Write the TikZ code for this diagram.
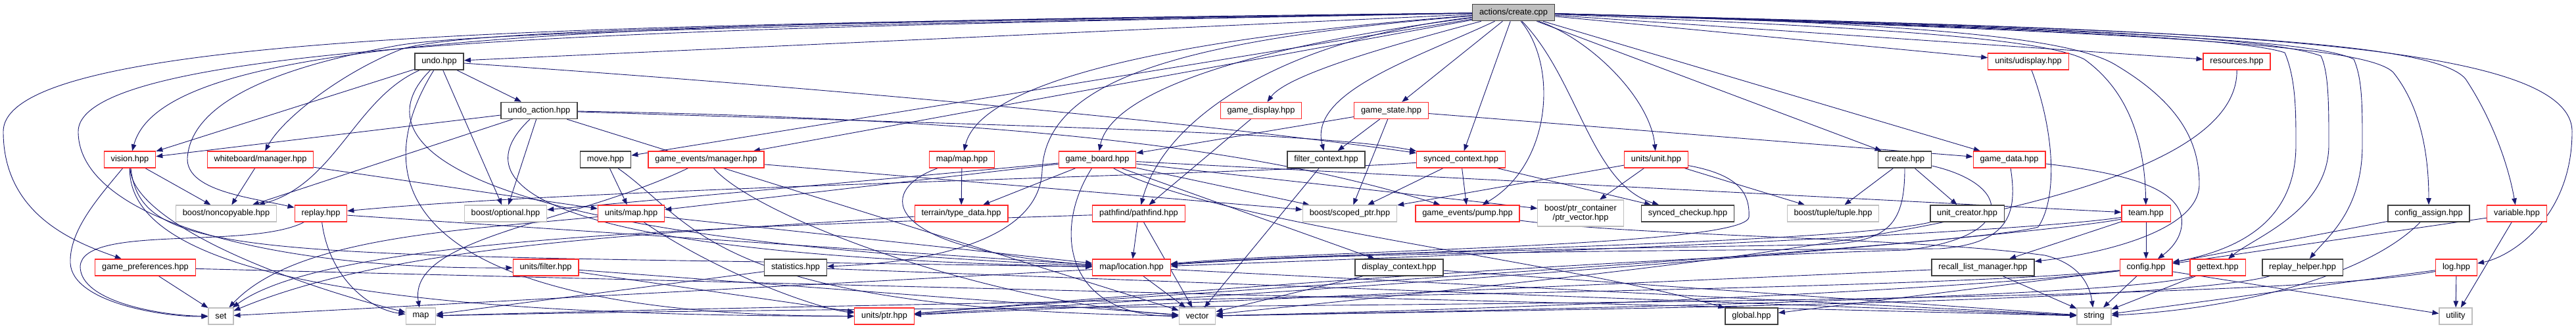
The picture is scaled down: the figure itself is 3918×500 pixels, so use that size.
\documentclass[tikz,border=0pt]{standalone}
\usepackage{fontspec}
\setmainfont{Liberation Sans}
\usepackage{xcolor}
\definecolor{edgeblue}{HTML}{191970}
\definecolor{boxred}{HTML}{FF2A2A}
\definecolor{boxgray}{HTML}{BFBFBF}
\definecolor{rootgray}{HTML}{BFBFBF}
\usepackage{tikz}
\usetikzlibrary{arrows.meta,backgrounds}

\begin{document}
\begin{tikzpicture}[
        x=1pt, y=-1pt,
        hdr/.style={draw, fill=white, line width=1.2pt, minimum height=25pt, inner xsep=10.4pt, inner ysep=2pt, font=\fontsize{12.8}{14}\selectfont},
        redhdr/.style={hdr, draw=boxred},
        blkhdr/.style={hdr, draw=black!75, line width=1.6pt},
        syshdr/.style={hdr, draw=boxgray},
        roothdr/.style={hdr, draw=black!75, fill=rootgray, line width=1.6pt},
        arr/.style={-{Triangle[length=10pt,width=7.5pt]}, draw=edgeblue, line width=0.9pt},
    ]
    \useasboundingbox (0,0) rectangle (3918,500);

    % === Row 0: the source file ===
    \node[roothdr] (create) at (2302,19) {actions/create.cpp};

    % === Row 1 ===
    \node[blkhdr] (undo) at (668,93.5) {undo.hpp};
    \node[redhdr] (udisplay) at (3085,93.5) {units/udisplay.hpp};
    \node[redhdr] (resources) at (3402,93.5) {resources.hpp};

    % === Row 2 ===
    \node[blkhdr] (undoaction) at (820,168) {undo\_action.hpp};
    \node[redhdr] (gamedisplay) at (1918,168) {game\_display.hpp};
    \node[redhdr] (gamestate) at (2116,168) {game\_state.hpp};

    % === Row 3 ===
    \node[redhdr] (vision) at (197.5,242.5) {vision.hpp};
    \node[redhdr] (wbmanager) at (396,242.5) {whiteboard/manager.hpp};
    \node[blkhdr] (move) at (921,242.5) {move.hpp};
    \node[redhdr] (gemanager) at (1074,242.5) {game\_events/manager.hpp};
    \node[redhdr] (mapmap) at (1463,242.5) {map/map.hpp};
    \node[redhdr] (gameboard) at (1669,242.5) {game\_board.hpp};
    \node[blkhdr] (filterctx) at (2017,242.5) {filter\_context.hpp};
    \node[redhdr] (syncedctx) at (2222,242.5) {synced\_context.hpp};
    \node[redhdr] (unit) at (2519,242.5) {units/unit.hpp};
    \node[blkhdr] (createhpp) at (2897,242.5) {create.hpp};
    \node[redhdr] (gamedata) at (3056,242.5) {game\_data.hpp};

    % === Row 4 ===
    \node[syshdr] (noncopyable) at (344,324.5) {boost/noncopyable.hpp};
    \node[redhdr] (replay) at (488,324.5) {replay.hpp};
    \node[syshdr] (optional) at (769,324.5) {boost/optional.hpp};
    \node[redhdr] (unitsmap) at (960,324.5) {units/map.hpp};
    \node[redhdr] (typedata) at (1462,324.5) {terrain/type\_data.hpp};
    \node[redhdr] (pathfind) at (1732,324.5) {pathfind/pathfind.hpp};
    \node[syshdr] (scopedptr) at (2053,324.5) {boost/scoped\_ptr.hpp};
    \node[redhdr] (pump) at (2232,324.5) {game\_events/pump.hpp};
    \node[syshdr, minimum height=40pt, align=center] (ptrvector) at (2404,324) {boost/ptr\_container\\/ptr\_vector.hpp};
    \node[blkhdr] (checkup) at (2567,324.5) {synced\_checkup.hpp};
    \node[syshdr] (tuple) at (2788,324.5) {boost/tuple/tuple.hpp};
    \node[blkhdr] (unitcreator) at (2992,324.5) {unit\_creator.hpp};
    \node[redhdr] (team) at (3264,324.5) {team.hpp};
    \node[blkhdr] (configassign) at (3694,324.5) {config\_assign.hpp};
    \node[redhdr] (variable) at (3828,324.5) {variable.hpp};

    % === Row 5 ===
    \node[redhdr] (gameprefs) at (221,406.5) {game\_preferences.hpp};
    \node[redhdr] (unitfilter) at (830,406.5) {units/filter.hpp};
    \node[blkhdr] (statistics) at (1210,406.5) {statistics.hpp};
    \node[redhdr] (location) at (1721,406.5) {map/location.hpp};
    \node[blkhdr] (displayctx) at (2128,406.5) {display\_context.hpp};
    \node[blkhdr] (recall) at (3016,406.5) {recall\_list\_manager.hpp};
    \node[redhdr] (config) at (3264,406.5) {config.hpp};
    \node[redhdr] (gettext) at (3373,406.5) {gettext.hpp};
    \node[blkhdr] (replayhelper) at (3502,406.5) {replay\_helper.hpp};
    \node[redhdr] (log) at (3736,406.5) {log.hpp};

    % === Row 6: system headers ===
    \node[syshdr] (set) at (336,480.5) {set};
    \node[syshdr] (map) at (640,480.5) {map};
    \node[redhdr] (unitptr) at (1345,480.5) {units/ptr.hpp};
    \node[syshdr] (vector) at (1821,480.5) {vector};
    \node[blkhdr] (global) at (2664,480.5) {global.hpp};
    \node[syshdr] (string) at (3185,480.5) {string};
    \node[syshdr] (utility) at (3735,480.5) {utility};

    \begin{scope}[on background layer]
    \fill[white] (0,0) rectangle (3918,500);

    % === Includes of actions/create.cpp ===
    \draw[arr] (create) .. controls (900,35) and (250,50) .. (vision);
    \draw[arr] (create) .. controls (1200,35) and (700,45) .. (610,75) .. controls (520,110) and (430,180) .. (wbmanager);
    \draw[arr] (create) .. controls (1200,38) and (700,50) .. (600,70) .. controls (380,110) and (290,170) .. (285,240) .. controls (283,290) and (380,300) .. (replay);
    \draw[arr] (create) .. controls (1000,38) and (5,40) .. (5,200) .. controls (5,330) and (120,370) .. (gameprefs);
    \draw[arr] (create) .. controls (1100,42) and (119,55) .. (119,200) .. controls (119,330) and (400,410) .. (unitfilter);
    \draw[arr] (create) -- (undo);
    \draw[arr] (create) -- (move);
    \draw[arr] (create) -- (gemanager);
    \draw[arr] (create) .. controls (1750,60) and (1490,130) .. (mapmap);
    \draw[arr] (create) .. controls (1900,70) and (1690,140) .. (gameboard);
    \draw[arr] (create) .. controls (1800,60) and (1590,120) .. (1585,260) .. controls (1580,370) and (1400,400) .. (statistics);
    \draw[arr] (create) .. controls (1950,60) and (1770,180) .. (pathfind);
    \draw[arr] (create) .. controls (2150,60) and (1960,110) .. (gamedisplay);
    \draw[arr] (create) .. controls (2150,90) and (1990,140) .. (filterctx);
    \draw[arr] (create) -- (gamestate);
    \draw[arr] (create) -- (syncedctx);
    \draw[arr] (create) .. controls (2370,100) and (2360,250) .. (pump);
    \draw[arr] (create) .. controls (2400,120) and (2420,280) .. (checkup);
    \draw[arr] (create) .. controls (2420,60) and (2510,150) .. (unit);
    \draw[arr] (create) -- (createhpp);
    \draw[arr] (create) -- (gamedata);
    \draw[arr] (create) -- (udisplay);
    \draw[arr] (create) -- (resources);
    \draw[arr] (create) .. controls (2800,40) and (3100,55) .. (3170,90) .. controls (3240,140) and (3262,220) .. (team);
    \draw[arr] (create) .. controls (2900,35) and (3150,55) .. (3220,100) .. controls (3320,160) and (3345,220) .. (3345,280) .. controls (3345,350) and (3200,385) .. (recall);
    \draw[arr] (create) .. controls (3000,40) and (3400,55) .. (3475,80) .. controls (3492,120) and (3492,170) .. (3492,220) .. controls (3492,340) and (3400,380) .. (config);
    \draw[arr] (create) .. controls (3100,40) and (3450,55) .. (3530,85) .. controls (3542,110) and (3542,160) .. (3542,220) .. controls (3542,320) and (3430,360) .. (gettext);
    \draw[arr] (create) .. controls (3200,45) and (3520,60) .. (3580,90) .. controls (3593,120) and (3593,160) .. (3593,220) .. controls (3593,320) and (3540,360) .. (replayhelper);
    \draw[arr] (create) .. controls (3300,50) and (3600,70) .. (3640,110) .. controls (3680,160) and (3694,230) .. (configassign);
    \draw[arr] (create) .. controls (3300,45) and (3700,60) .. (3750,120) .. controls (3790,180) and (3815,250) .. (variable);
    \draw[arr] (create) .. controls (3300,45) and (3912,55) .. (3912,200) .. controls (3912,330) and (3820,390) .. (log);

    % === undo.hpp, undo_action.hpp ===
    \draw[arr] (undo) -- (undoaction);
    \draw[arr] (undo) -- (optional);
    \draw[arr] (undo) -- (vision);
    \draw[arr] (undo) .. controls (540,150) and (510,280) .. (noncopyable);
    \draw[arr] (undo) .. controls (1500,150) and (2000,210) .. (syncedctx);
    \draw[arr] (undo) .. controls (560,200) and (620,360) .. (location);
    \draw[arr] (undo) .. controls (540,300) and (650,480) .. (unitptr);
    \draw[arr] (undoaction) -- (vision);
    \draw[arr] (undoaction) -- (noncopyable);
    \draw[arr] (undoaction) -- (optional);
    \draw[arr] (undoaction) .. controls (1500,190) and (2000,200) .. (syncedctx);
    \draw[arr] (undoaction) .. controls (1500,180) and (1900,220) .. (pump);
    \draw[arr] (undoaction) .. controls (680,300) and (900,390) .. (location);
    \draw[arr] (undoaction) -- (vector);

    % === left part ===
    \draw[arr] (vision) -- (noncopyable);
    \draw[arr] (vision) .. controls (150,300) and (105,350) .. (107,400) .. controls (110,460) and (250,482) .. (set);
    \draw[arr] (vision) .. controls (200,330) and (400,420) .. (map);
    \draw[arr] (vision) .. controls (215,400) and (400,385) .. (location);
    \draw[arr] (vision) .. controls (195,420) and (600,480) .. (unitptr);
    \draw[arr] (wbmanager) -- (noncopyable);
    \draw[arr] (wbmanager) -- (unitsmap);
    \draw[arr] (replay) .. controls (380,380) and (125,340) .. (122,405) .. controls (122,460) and (250,480) .. (set);
    \draw[arr] (replay) -- (location);
    \draw[arr] (replay) .. controls (500,420) and (560,470) .. (map);
    \draw[arr] (gameprefs) -- (set);
    \draw[arr] (gameprefs) -- (string);
    \draw[arr] (move) -- (unitsmap);
    \draw[arr] (move) .. controls (1060,340) and (1080,470) .. (vector);
    \draw[arr] (gemanager) .. controls (870,340) and (620,360) .. (map);
    \draw[arr] (gemanager) -- (scopedptr);
    \draw[arr] (gemanager) .. controls (1150,330) and (1500,460) .. (vector);
    \draw[arr] (unitsmap) .. controls (700,350) and (450,360) .. (set);
    \draw[arr] (unitsmap) .. controls (1100,420) and (1250,470) .. (unitptr);
    \draw[arr] (unitsmap) -- (location);
    \draw[arr] (unitfilter) -- (vector);
    \draw[arr] (unitfilter) -- (unitptr);
    \draw[arr] (statistics) -- (map);
    \draw[arr] (statistics) -- (string);

    % === middle part ===
    \draw[arr] (mapmap) -- (typedata);
    \draw[arr] (mapmap) .. controls (1330,290) and (1340,380) .. (location);
    \draw[arr] (typedata) .. controls (1000,355) and (600,370) .. (set);
    \draw[arr] (gameboard) -- (typedata);
    \draw[arr] (gameboard) -- (unitsmap);
    \draw[arr] (gameboard) -- (optional);
    \draw[arr] (gameboard) -- (team);
    \draw[arr] (gameboard) -- (ptrvector);
    \draw[arr] (gameboard) -- (scopedptr);
    \draw[arr] (gameboard) -- (displayctx);
    \draw[arr] (gameboard) .. controls (1600,350) and (1620,480) .. (vector);
    \draw[arr] (gameboard) .. controls (1850,340) and (2400,400) .. (global);
    \draw[arr] (pathfind) -- (location);
    \draw[arr] (pathfind) -- (vector);
    \draw[arr] (pathfind) .. controls (1100,345) and (500,360) .. (set);
    \draw[arr] (gamedisplay) -- (pathfind);
    \draw[arr] (gamestate) -- (gameboard);
    \draw[arr] (gamestate) -- (filterctx);
    \draw[arr] (gamestate) -- (scopedptr);
    \draw[arr] (gamestate) -- (gamedata);
    \draw[arr] (filterctx) -- (vector);
    \draw[arr] (syncedctx) .. controls (1900,265) and (900,285) .. (replay);
    \draw[arr] (syncedctx) -- (checkup);
    \draw[arr] (syncedctx) -- (scopedptr);
    \draw[arr] (syncedctx) -- (pump);
    \draw[arr] (pump) .. controls (2500,360) and (2900,360) .. (3110,388) .. controls (3160,400) and (3178,430) .. (string);
    \draw[arr] (location) -- (vector);
    \draw[arr] (location) -- (set);
    \draw[arr] (location) -- (string);
    \draw[arr] (displayctx) -- (vector);
    \draw[arr] (displayctx) -- (string);

    % === right part ===
    \draw[arr] (unit) -- (ptrvector);
    \draw[arr] (unit) -- (tuple);
    \draw[arr] (unit) -- (scopedptr);
    \draw[arr] (unit) .. controls (2640,265) and (2662,290) .. (2660,330) .. controls (2655,375) and (2000,380) .. (location);
    \draw[arr] (createhpp) -- (tuple);
    \draw[arr] (createhpp) -- (unitcreator);
    \draw[arr] (createhpp) .. controls (2897,345) and (2870,370) .. (2760,372) .. controls (2400,378) and (2000,385) .. (location);
    \draw[arr] (createhpp) .. controls (3060,280) and (3070,360) .. (2900,380) .. controls (2400,395) and (1700,450) .. (unitptr);
    \draw[arr] (gamedata) .. controls (3250,265) and (3310,290) .. (3318,330) .. controls (3322,360) and (3300,380) .. (config);
    \draw[arr] (gamedata) .. controls (3068,320) and (3060,370) .. (2950,378) .. controls (2500,380) and (2000,385) .. (location);
    \draw[arr] (udisplay) .. controls (3125,200) and (3130,300) .. (3100,345) .. controls (3000,375) and (1700,450) .. (unitptr);
    \draw[arr] (resources) .. controls (3405,330) and (2600,400) .. (vector);
    \draw[arr] (unitcreator) .. controls (2800,370) and (2100,380) .. (location);
    \draw[arr] (team) -- (recall);
    \draw[arr] (team) -- (config);
    \draw[arr] (team) .. controls (3150,350) and (2400,420) .. (unitptr);
    \draw[arr] (team) .. controls (3100,350) and (2500,378) .. (location);
    \draw[arr] (recall) -- (string);
    \draw[arr] (recall) -- (unitptr);
    \draw[arr] (config) -- (string);
    \draw[arr] (config) -- (utility);
    \draw[arr] (config) -- (global);
    \draw[arr] (config) .. controls (3000,440) and (2300,470) .. (vector);
    \draw[arr] (config) .. controls (2900,445) and (1500,455) .. (map);
    \draw[arr] (gettext) -- (string);
    \draw[arr] (gettext) .. controls (3250,450) and (2400,470) .. (vector);
    \draw[arr] (replayhelper) .. controls (3300,460) and (2400,470) .. (vector);
    \draw[arr] (configassign) -- (config);
    \draw[arr] (configassign) .. controls (3600,420) and (3400,470) .. (string);
    \draw[arr] (variable) -- (config);
    \draw[arr] (variable) -- (utility);
    \draw[arr] (log) -- (utility);
    \draw[arr] (log) -- (string);
    \draw[arr] (log) .. controls (3400,470) and (1500,460) .. (map);
    \end{scope}

\end{tikzpicture}
\end{document}
